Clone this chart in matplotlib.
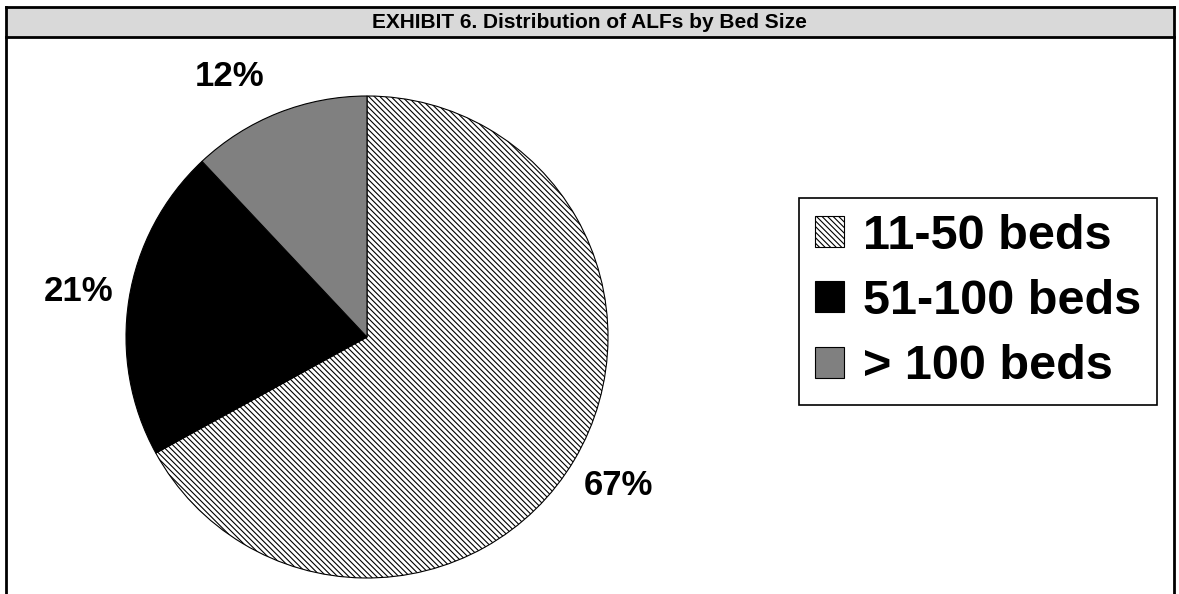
import matplotlib
matplotlib.use('Agg')
import matplotlib.pyplot as plt
from matplotlib.patches import Rectangle
from matplotlib.lines import Line2D

plt.rcParams['font.family'] = ['Liberation Sans', 'DejaVu Sans']
plt.rcParams['hatch.linewidth'] = 0.8

# data
categories = ['11-50 beds', '51-100 beds', '> 100 beds']
shares = [67, 21, 12]
colors = ['white', 'black', '#808080']
hatches = ['\\\\\\\\\\\\', None, None]

W, H = 1179, 594
fig = plt.figure(figsize=(W / 100, H / 100), dpi=100)

# ---- frame and title bar ----
def fx(px): return px / W
def fy(py): return 1 - py / H

fig.add_artist(Rectangle((fx(6), fy(37)), fx(1174) - fx(6), fy(7) - fy(37),
                         transform=fig.transFigure, facecolor='#d9d9d9',
                         edgecolor='none', zorder=0))
for xs, ys in [((6, 1174), (7, 7)), ((6, 1174), (37, 37)),
               ((6, 6), (7, 594)), ((1174, 1174), (7, 594))]:
    fig.add_artist(Line2D([fx(x) for x in xs], [fy(y) for y in ys],
                          transform=fig.transFigure, color='black', lw=2))
fig.text(0.5, fy(22), 'EXHIBIT 6. Distribution of ALFs by Bed Size',
         ha='center', va='center', fontsize=15, fontweight='bold')

# ---- pie ----
cx, cy, r = 367, 337, 241
ax = fig.add_axes([fx(cx - r), fy(cy + r), 2 * r / W, 2 * r / H])
wedges, _, autotexts = ax.pie(
    shares, colors=colors, startangle=90, counterclock=False,
    autopct=lambda p: f'{p:.0f}%', pctdistance=1.21,
    wedgeprops=dict(edgecolor='black', linewidth=0.8),
    textprops=dict(fontsize=25, fontweight='bold'))
for w, h in zip(wedges, hatches):
    if h:
        w.set_hatch(h)
# the small-slice label sits a bit further left in the original
autotexts[2].set_position((-0.57, 1.08))
ax.set_xlim(-1, 1)
ax.set_ylim(-1, 1)
ax.set_aspect('equal')
ax.axis('off')

# ---- legend ----
leg = fig.legend(wedges, categories, loc='upper left',
                 bbox_to_anchor=(fx(799), fy(198)), borderaxespad=0,
                 prop=dict(size=35, weight='bold'),
                 handlelength=0.6, handleheight=0.6, handletextpad=0.4,
                 borderpad=0.32, labelspacing=0.42,
                 fancybox=False, shadow=False, framealpha=1)
leg.get_frame().set_edgecolor('black')
leg.get_frame().set_linewidth(1.2)

fig.savefig('out.png', dpi=100)
